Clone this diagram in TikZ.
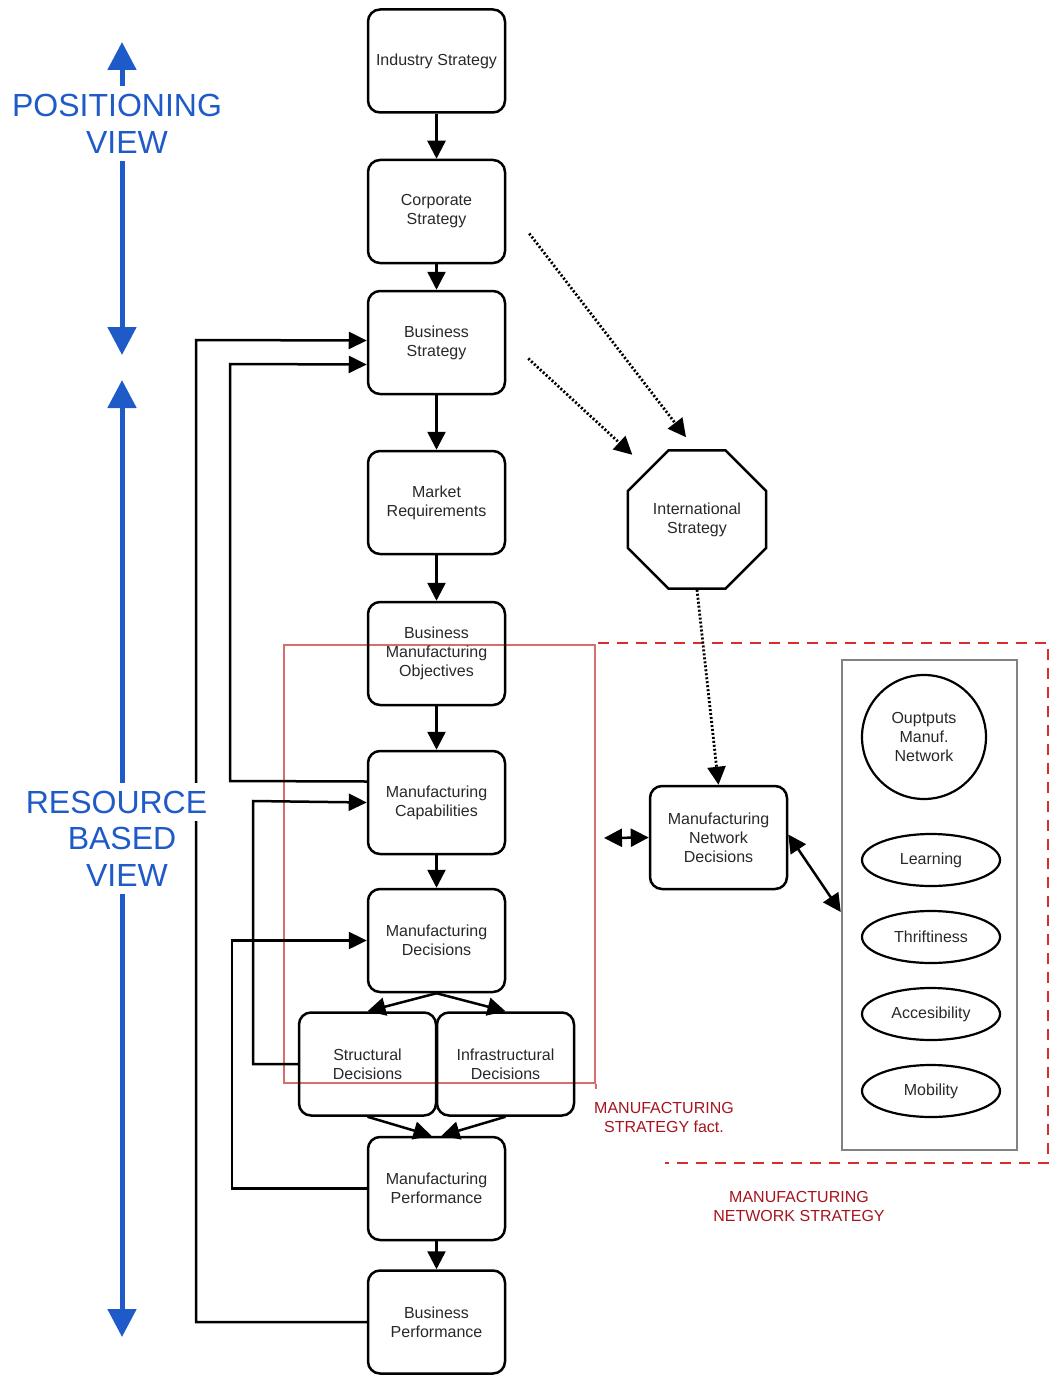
\documentclass[tikz,border=0pt]{standalone}
\usepackage{fontspec}
\setmainfont{Liberation Sans}
\usetikzlibrary{arrows.meta,shapes.geometric}

\definecolor{viewblue}{RGB}{30,90,200}
\definecolor{boxred}{RGB}{215,110,110}
\definecolor{dashred}{RGB}{215,45,45}
\definecolor{labelred}{RGB}{165,20,30}
\definecolor{panelgray}{RGB}{130,130,130}
\definecolor{ink}{RGB}{40,40,40}

\newcommand\bxfont{\fontsize{16}{19}\selectfont}
\newcommand\viewfont{\fontsize{32}{37}\selectfont}

\begin{document}
\begin{tikzpicture}[x=1pt,y=-1pt,
  stepbox/.style={draw=black, line width=2.5pt, rounded corners=12pt,
    minimum width=137pt, minimum height=103pt, align=center,
    font=\bxfont, text=ink, inner sep=2pt},
  octbox/.style={draw=black, line width=2.5pt, regular polygon,
    regular polygon sides=8, minimum size=149.4pt, inner sep=0pt,
    align=center, font=\bxfont, text=ink},
  outcome/.style={draw=black, line width=2.2pt, ellipse, minimum width=138pt,
    minimum height=52pt, inner sep=0pt, align=center, font=\bxfont, text=ink},
  arr/.style={line width=2.5pt, -{Triangle[length=18pt,width=18pt]}},
  dblarr/.style={line width=2.5pt,
    {Triangle[length=18pt,width=18pt]}-{Triangle[length=18pt,width=18pt]}},
  dotarr/.style={line width=2.8pt, dash pattern=on 2pt off 2pt,
    -{Triangle[length=18pt,width=18pt]}},
  fb/.style={line width=2.5pt, -{Triangle[length=18pt,width=17pt]}},
  viewarrow/.style={draw=viewblue, line width=5pt,
    {Triangle[length=28pt,width=28pt]}-{Triangle[length=28pt,width=28pt]}},
  viewlabel/.style={font=\viewfont, text=viewblue, fill=white,
    inner sep=0pt, minimum height=38pt},
  redlabel/.style={font=\bxfont, text=labelred, align=center},
]
\useasboundingbox (0,0) rectangle (1051,1375);

% manufacturing strategy frame and network strategy frame
\node[draw=boxred, line width=1.5pt, minimum width=311pt, minimum height=438pt,
  inner sep=0pt] (fact) at (439.5,864) {};
\draw[boxred, line width=1.5pt] (fact.south east) -- ++(0,5);
\draw[dashred, line width=2.8pt, dash pattern=on 11pt off 8pt]
  (598,643) -- (1048,643) -- (1048,1163) -- (665,1163);

% main chain
\node[stepbox] (ind)  at (436.5,61)    {Industry Strategy};
\node[stepbox] (corp) at (436.5,211.5) {Corporate\\Strategy};
\node[stepbox] (bs)   at (436.5,342.5) {Business\\Strategy};
\node[stepbox] (mr)   at (436.5,502.5) {Market\\Requirements};
\node[stepbox] (bmo)  at (436.5,653.5) {Business\\Manufacturing\\Objectives};
\node[stepbox] (mc)   at (436.5,802.5) {Manufacturing\\Capabilities};
\node[stepbox] (md)   at (436.5,940.5) {Manufacturing\\Decisions};
\node[stepbox] (sd)   at (367.5,1064)  {Structural\\Decisions};
\node[stepbox] (isd)  at (505.5,1064)  {Infrastructural\\Decisions};
\node[stepbox] (mp)   at (436.5,1188.5){Manufacturing\\Performance};
\node[stepbox] (bp)   at (436.5,1322)  {Business\\Performance};

% international and network decisions
\node[octbox] (is) at (697,519.5) {International\\Strategy};
\node[stepbox] (mnd) at (718.5,837.5) {Manufacturing\\Network\\Decisions};

% outputs of the manufacturing network
\node[draw=panelgray, line width=2.5pt, minimum width=175pt, minimum height=490pt,
  inner sep=0pt] (panel) at (929.5,905) {};
\node[draw=black, line width=2.2pt, circle, minimum size=124pt, inner sep=0pt,
  align=center, font=\bxfont, text=ink] (out) at (924,737)
  {Ouptputs\\Manuf.\\Network};
\node[outcome] (learn)  at (931,860)  {Learning};
\node[outcome] (thrift) at (931,937)  {Thriftiness};
\node[outcome] (access) at (931,1014) {Accesibility};
\node[outcome] (mobil)  at (931,1091) {Mobility};

% labels of the frames
\node[redlabel] (factlabel) at (664,1117) {MANUFACTURING\\STRATEGY fact.};
\node[redlabel] (netlabel)  at (799,1206) {MANUFACTURING\\NETWORK STRATEGY};

% chain arrows
\draw[arr] (ind) -- (corp);
\draw[arr] (corp) -- (bs);
\draw[arr] (bs) -- (mr);
\draw[arr] (mr) -- (bmo);
\draw[arr] (bmo) -- (mc);
\draw[arr] (mc) -- (md);
\draw[arr] (md.south) -- (sd.north);
\draw[arr] (md.south) -- (isd.north);
\draw[arr] (sd.south) -- ([xshift=-5pt]mp.north);
\draw[arr] (isd.south) -- ([xshift=5pt]mp.north);
\draw[arr] (mp) -- (bp);

% influence of corporate and business strategy
\draw[dotarr] ([xshift=23pt,yshift=-22pt]corp.east) -- ([xshift=-11pt,yshift=12pt]is.north);
\draw[dotarr] ([xshift=22pt,yshift=-16pt]bs.east) -- ([shift={(-15pt,15pt)}]is.north west);
\draw[dotarr] (is.south) -- (mnd.north);

% links of the network decisions
\coordinate (lside) at (604,838);
\draw[dblarr] (lside) -- (mnd.west);
\draw[dblarr] ([yshift=3pt]mnd.east) -- ([yshift=-7pt]panel.west);

% feedback loops
\draw[fb] (bp.west) -- (196,1322) -- (196,340) -- ([yshift=2pt]bs.west);
\draw[fb] ([yshift=21pt]mc.west) -- (230,781) -- (230,364) -- ([yshift=-22pt]bs.west);
\draw[fb] (sd.west) -- (253,1064) -- (253,801) -- (mc.west);
\draw[fb] (mp.west) -- (232,1188.5) -- (232,940.5) -- (md.west);

% view axes
\coordinate (ptop) at (122,42);
\coordinate (pbot) at (122,355);
\coordinate (rtop) at (122,380);
\coordinate (rbot) at (122,1337);
\draw[viewarrow] (ptop) -- (pbot);
\draw[viewarrow] (rtop) -- (rbot);
\node[viewlabel] (pos1) at (117,105) {POSITIONING};
\node[viewlabel] (pos2) at (127,142) {VIEW};
\node[viewlabel] (res1) at (116.5,802) {RESOURCE};
\node[viewlabel] (res2) at (122,838) {BASED};
\node[viewlabel] (res3) at (127,875) {VIEW};
\end{tikzpicture}
\end{document}
